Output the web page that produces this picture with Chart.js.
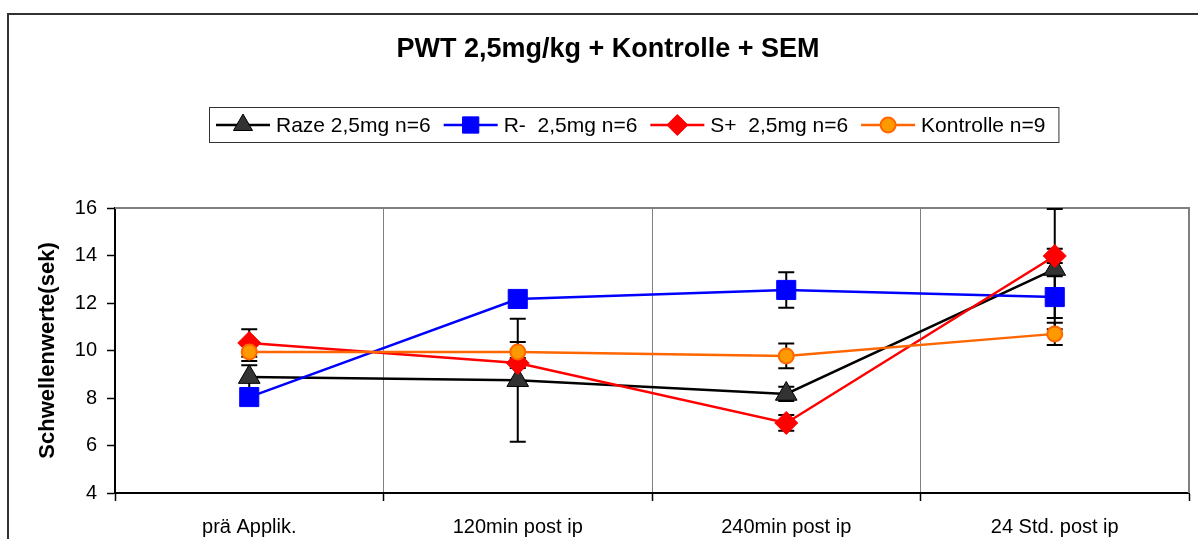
<!DOCTYPE html>
<html><head><meta charset="utf-8">
<script src="https://cdn.jsdelivr.net/npm/chart.js@4.4.1/dist/chart.umd.min.js"></script>
<style>html,body{margin:0;padding:0;background:#fff;} canvas{display:block;}</style>
</head><body>
<canvas id="c" width="1198" height="539"></canvas>
<script>
const chartTitle = 'PWT 2,5mg/kg + Kontrolle + SEM';
const yAxisTitle = 'Schwellenwerte(sek)';
const categories = ['prä Applik.', '120min post ip', '240min post ip', '24 Std. post ip'];
const yTicks = [4, 6, 8, 10, 12, 14, 16];
const seriesNames = ['Raze 2,5mg n=6', 'R-  2,5mg n=6', 'S+  2,5mg n=6', 'Kontrolle n=9'];
const razeValues = [8.88, 8.75, 8.17, 13.43];
const razeSem = [0.5, 2.59, 0.3, 2.53];
const rMinusValues = [8.04, 12.17, 12.55, 12.25];
const rMinusSem = [0.3, 0.3, 0.75, 0.88];
const sPlusValues = [10.32, 9.47, 6.95, 13.98];
const sPlusSem = [0.58, 0.21, 0.33, 0.3];
const kontrolleValues = [9.94, 9.94, 9.77, 10.7];
const kontrolleSem = [0.38, 0.42, 0.52, 0.47];

const FONT = '"Liberation Sans", Arial, sans-serif';
const styles = [
  {line: '#000000', fill: '#333333', border: '#000000', point: 'triangle', radius: 12.5, bw: 1, lr: 11},
  {line: '#0000FF', fill: '#0000FF', border: '#0000FF', point: 'rect', radius: 13.5, bw: 1, lr: 11.5},
  {line: '#FF0000', fill: '#FF0000', border: '#FF0000', point: 'rectRot', radius: 11.5, bw: 1, lr: 10.5},
  {line: '#FF6600', fill: '#FF9900', border: '#FF6600', point: 'circle', radius: 7.5, bw: 2, lr: 7.5}
];
const seriesValues = [razeValues, rMinusValues, sPlusValues, kontrolleValues];
const seriesSem = [razeSem, rMinusSem, sPlusSem, kontrolleSem];

const datasets = seriesNames.map((name, i) => ({
  label: name,
  data: seriesValues[i],
  sem: seriesSem[i],
  order: seriesNames.length - i,
  borderColor: styles[i].line,
  backgroundColor: styles[i].fill,
  borderWidth: 2.5,
  tension: 0,
  pointStyle: styles[i].point,
  pointRadius: styles[i].radius,
  pointBackgroundColor: styles[i].fill,
  pointBorderColor: styles[i].border,
  pointBorderWidth: styles[i].bw,
  pointHoverRadius: styles[i].radius
}));

function drawMarker(ctx, st, x, y, r) {
  ctx.save();
  ctx.fillStyle = st.fill;
  ctx.strokeStyle = st.border;
  ctx.lineWidth = st.bw;
  if (Chart.helpers && Chart.helpers.drawPoint) {
    Chart.helpers.drawPoint(ctx, {pointStyle: st.point, radius: r, borderWidth: st.bw, rotation: 0}, x, y);
  } else {
    ctx.beginPath(); ctx.arc(x, y, r, 0, Math.PI * 2); ctx.fill(); ctx.stroke();
  }
  ctx.restore();
}

const decor = {
  id: 'decor',
  beforeDraw(chart) {
    const ctx = chart.ctx;
    ctx.save();
    ctx.fillStyle = '#fff';
    ctx.fillRect(0, 0, chart.width, chart.height);
    ctx.strokeStyle = '#333';
    ctx.lineWidth = 2;
    ctx.strokeRect(8, 14, chart.width + 20, chart.height + 20);
    ctx.restore();
  },
  beforeDatasetsDraw(chart) {
    const ctx = chart.ctx, a = chart.chartArea, ys = chart.scales.y;
    ctx.save();
    ctx.strokeStyle = '#808080';
    ctx.lineWidth = 2;
    ctx.beginPath();
    ctx.moveTo(a.left, a.top); ctx.lineTo(a.right, a.top); ctx.lineTo(a.right, a.bottom);
    ctx.stroke();
    ctx.strokeStyle = '#000';
    ctx.lineWidth = 2;
    chart.data.datasets.forEach((ds, i) => {
      const meta = chart.getDatasetMeta(i);
      ds.data.forEach((v, j) => {
        const x = meta.data[j].x;
        const yt = ys.getPixelForValue(v + ds.sem[j]);
        const yb = ys.getPixelForValue(v - ds.sem[j]);
        ctx.beginPath();
        ctx.moveTo(x, yt); ctx.lineTo(x, yb);
        ctx.moveTo(x - 8, yt); ctx.lineTo(x + 8, yt);
        ctx.moveTo(x - 8, yb); ctx.lineTo(x + 8, yb);
        ctx.stroke();
      });
    });
    ctx.restore();
  },
  afterDraw(chart) {
    const ctx = chart.ctx;
    ctx.save();
    ctx.fillStyle = '#000';
    ctx.font = 'bold 27px ' + FONT;
    ctx.textAlign = 'center';
    ctx.textBaseline = 'alphabetic';
    ctx.fillText(chartTitle, 608, 57);
    // legend
    ctx.font = '21px ' + FONT;
    ctx.textAlign = 'left';
    const boxLeft = 209, boxTop = 107, boxH = 35, cy = 125;
    let x = 216;
    chart.data.datasets.forEach((ds, i) => {
      const st = styles[i];
      ctx.strokeStyle = st.line;
      ctx.lineWidth = 2.5;
      ctx.beginPath(); ctx.moveTo(x, cy); ctx.lineTo(x + 54, cy); ctx.stroke();
      drawMarker(ctx, st, x + 27, cy, st.lr);
      ctx.fillStyle = '#000';
      ctx.fillText(ds.label, x + 60, 132);
      x = x + 60 + ctx.measureText(ds.label).width + 13;
    });
    ctx.strokeStyle = '#333';
    ctx.lineWidth = 1;
    ctx.strokeRect(boxLeft + 0.5, boxTop + 0.5, x - boxLeft, boxH);
    ctx.restore();
  }
};

new Chart(document.getElementById('c'), {
  type: 'line',
  data: {labels: categories, datasets: datasets},
  options: {
    responsive: false,
    animation: false,
    events: [],
    layout: {autoPadding: false, padding: {top: 208, right: 9, left: 0, bottom: 0}},
    plugins: {legend: {display: false}, title: {display: false}, tooltip: {enabled: false}},
    scales: {
      x: {
        type: 'category',
        offset: true,
        grid: {offset: true, color: '#808080', lineWidth: 1, tickLength: 8, tickColor: '#000', tickWidth: 1.5},
        border: {color: '#000', width: 2},
        ticks: {font: {family: FONT, size: 20}, color: '#000', padding: 14, maxRotation: 0, autoSkip: false},
        afterFit(s) { s.height = 46; s.paddingLeft = 0; s.paddingRight = 0; }
      },
      y: {
        min: 4, max: 16,
        afterBuildTicks(s) { s.ticks = yTicks.map(v => ({value: v})); },
        grid: {drawOnChartArea: false, tickLength: 8, tickColor: '#000', tickWidth: 1.5},
        border: {color: '#000', width: 2},
        ticks: {font: {family: FONT, size: 20}, color: '#000', padding: 10},
        title: {display: true, text: yAxisTitle, font: {family: FONT, size: 22, weight: 'bold'}, color: '#000', padding: {top: 35, bottom: 0}},
        afterFit(s) { s.width = 115; s.paddingTop = 0; s.paddingBottom = 0; }
      }
    }
  },
  plugins: [decor]
});
</script>
</body></html>
